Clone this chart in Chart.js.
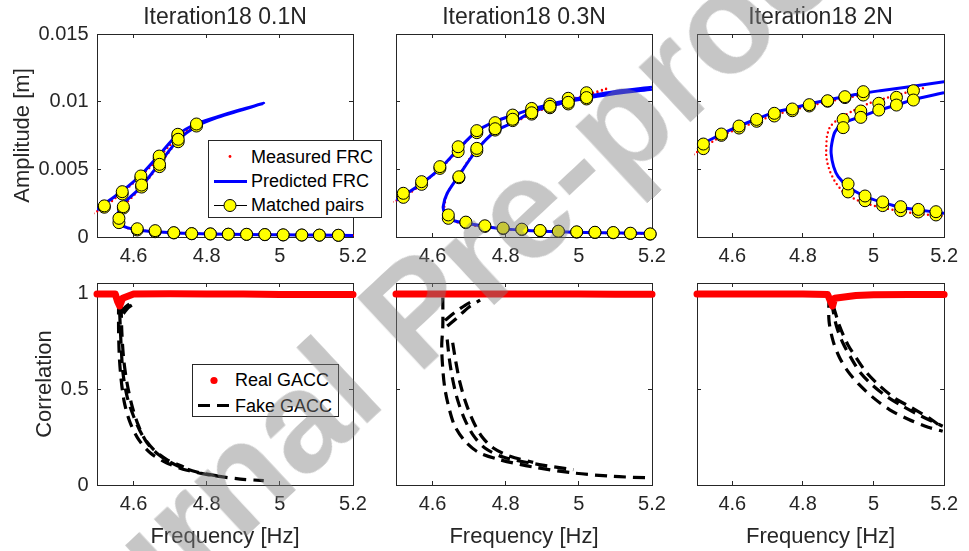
<!DOCTYPE html>
<html>
<head>
<meta charset="utf-8">
<script src="https://cdn.jsdelivr.net/npm/chart.js@4.4.1/dist/chart.umd.min.js"></script>
<style>
  html, body { margin: 0; padding: 0; background: #fff; }
  #fig { position: relative; width: 969px; height: 551px; overflow: hidden; background: #fff;
         font-family: 'Liberation Sans', Arial, Helvetica, sans-serif; }
  #fig canvas { position: absolute; left: 0; top: 0; }
  .legend { position: absolute; background: #fff; border: 1px solid #262626; box-sizing: border-box; }
  .legend svg { position: absolute; left: 0; }
  .legend .txt { position: absolute; font-size: 18px; color: #000; white-space: nowrap; line-height: 20px; }
  #mark { position: absolute; left: 416px; top: 311px; transform: translate(-50%, -50%) rotate(-43deg);
          font: bold 142px/1 'Liberation Sans', Arial, sans-serif; color: rgba(128,128,128,0.45);
          white-space: nowrap; pointer-events: none; }
</style>
</head>
<body>
<div id="fig">
  <canvas id="a1" width="969" height="551"></canvas>
  <canvas id="a2" width="969" height="551"></canvas>
  <canvas id="a3" width="969" height="551"></canvas>
  <canvas id="b1" width="969" height="551"></canvas>
  <canvas id="b2" width="969" height="551"></canvas>
  <canvas id="b3" width="969" height="551"></canvas>
  <div id="mark">Journal Pre-proof</div>
</div>
<script>
// ---- axes ----
const freqTicks = [4.6, 4.8, 5.0, 5.2];
const ampTicks = [0, 0.005, 0.01, 0.015];
const corrTicks = [0, 0.5, 1];
const titles = ['Iteration18 0.1N', 'Iteration18 0.3N', 'Iteration18 2N'];

// ---- 0.1 N : frequency response curves ----
const meas01F = [4.49, 4.52, 4.56, 4.60, 4.65, 4.70, 4.74, 4.78, 4.76, 4.72, 4.67, 4.62, 4.58, 4.562, 4.556, 4.565, 4.59, 4.63, 4.68, 4.75, 4.85, 4.95, 5.05, 5.15, 5.20];
const meas01A = [0.00175, 0.0022, 0.0031, 0.0040, 0.0053, 0.0068, 0.0078, 0.0085, 0.0081, 0.0071, 0.0053, 0.0036, 0.0025, 0.0018, 0.0013, 0.0009, 0.0006, 0.00046, 0.00036, 0.00027, 0.0002, 0.00017, 0.00015, 0.00013, 0.00012];
const pred01F = [4.50, 4.52, 4.57, 4.62, 4.67, 4.72, 4.77, 4.83, 4.89, 4.956, 4.89, 4.83, 4.775, 4.722, 4.671, 4.621, 4.573, 4.557, 4.556, 4.562, 4.575, 4.61, 4.66, 4.71, 4.81, 4.91, 5.01, 5.10, 5.20];
const pred01A = [0.0020, 0.00244, 0.00342, 0.00458, 0.00606, 0.00754, 0.00835, 0.00889, 0.00938, 0.00988, 0.00934, 0.00884, 0.00822, 0.00717, 0.00544, 0.00372, 0.00249, 0.00175, 0.0014, 0.00105, 0.00076, 0.00052, 0.00038, 0.0003, 0.00022, 0.00019, 0.00016, 0.00014, 0.00012];
const pair01F = [4.52, 4.569, 4.62, 4.67, 4.721, 4.772, 4.572, 4.622, 4.671, 4.722, 4.56, 4.61, 4.659, 4.71, 4.759, 4.81, 4.859, 4.909, 4.959, 5.009, 5.06, 5.108, 5.16];
const pair01M = [0.0022, 0.00318, 0.00434, 0.00581, 0.00741, 0.0082, 0.00214, 0.00369, 0.0052, 0.00704, 0.00106, 0.00052, 0.00039, 0.0003, 0.00024, 0.00022, 0.0002, 0.00019, 0.00017, 0.00015, 0.00014, 0.00013, 0.00012];
const pair01P = [0.0023, 0.00335, 0.00451, 0.00598, 0.00759, 0.00835, 0.00224, 0.00384, 0.00537, 0.00722, 0.00138, 0.00061, 0.00047, 0.00032, 0.00025, 0.00023, 0.00021, 0.0002, 0.00018, 0.00016, 0.00015, 0.00014, 0.00013];

// ---- 0.3 N ----
const meas03F = [4.49, 4.52, 4.57, 4.62, 4.67, 4.72, 4.77, 4.82, 4.87, 4.92, 4.97, 5.02, 5.08, 5.03, 4.97, 4.92, 4.87, 4.82, 4.78, 4.72, 4.67, 4.64, 4.632, 4.638, 4.66, 4.70, 4.75, 4.80, 4.85, 4.90, 4.95, 5.00, 5.05, 5.10, 5.15, 5.20];
const meas03A = [0.0026, 0.0029, 0.0039, 0.0050, 0.0064, 0.0078, 0.0085, 0.0090, 0.0094, 0.0098, 0.0101, 0.0105, 0.0110, 0.0105, 0.0100, 0.0096, 0.0091, 0.0084, 0.0080, 0.0065, 0.0045, 0.0032, 0.0022, 0.0016, 0.00115, 0.0009, 0.00072, 0.00058, 0.00048, 0.00041, 0.00037, 0.00034, 0.00031, 0.00028, 0.00025, 0.00022];
const pred03upF = [4.50, 4.52, 4.57, 4.62, 4.67, 4.72, 4.77, 4.82, 4.87, 4.92, 4.97, 5.02, 5.10, 5.20];
const pred03upA = [0.00273, 0.00305, 0.00395, 0.00505, 0.00648, 0.0078, 0.00852, 0.009, 0.00945, 0.0098, 0.0101, 0.01037, 0.01075, 0.01106];
const pred03loF = [5.20, 5.10, 5.02, 4.97, 4.92, 4.87, 4.82, 4.77, 4.72, 4.67, 4.64, 4.629, 4.634, 4.652, 4.693, 4.748, 4.793, 4.848, 4.894, 4.944, 4.994, 5.044, 5.094, 5.14, 5.20];
const pred03loA = [0.01092, 0.0106, 0.01025, 0.01, 0.00965, 0.0092, 0.00845, 0.00778, 0.0064, 0.00446, 0.00323, 0.00224, 0.00175, 0.00126, 0.00101, 0.00076, 0.0006, 0.0005, 0.00044, 0.00039, 0.00035, 0.00032, 0.0003, 0.00028, 0.00026];
const pair03F = [4.52, 4.57, 4.62, 4.67, 4.721, 4.771, 4.819, 4.871, 4.921, 4.971, 5.021, 5.021, 4.971, 4.921, 4.871, 4.819, 4.771, 4.721, 4.672, 4.643, 4.691, 4.743, 4.793, 4.844, 4.894, 4.944, 4.994, 5.044, 5.094, 5.141, 5.195];
const pair03M = [0.00293, 0.00389, 0.00507, 0.00631, 0.00771, 0.00825, 0.00877, 0.00931, 0.00968, 0.01007, 0.01037, 0.0102, 0.00983, 0.00955, 0.00908, 0.0086, 0.0079, 0.00638, 0.00438, 0.00138, 0.00106, 0.00078, 0.00062, 0.00055, 0.00046, 0.00041, 0.00036, 0.00033, 0.00031, 0.00026, 0.00021];
const pair03P = [0.00323, 0.00409, 0.0052, 0.00667, 0.00786, 0.00845, 0.00901, 0.0095, 0.00983, 0.01025, 0.01066, 0.0103, 0.00995, 0.00965, 0.00918, 0.0087, 0.008, 0.00655, 0.00445, 0.00163, 0.0011, 0.00083, 0.00066, 0.00058, 0.00048, 0.00043, 0.00038, 0.00035, 0.00033, 0.00028, 0.00023];

// ---- 2 N ----
const meas2upF = [4.49, 4.569, 4.619, 4.669, 4.719, 4.77, 4.818, 4.87, 4.919, 4.97];
const meas2upA = [0.0061, 0.00746, 0.00803, 0.00852, 0.00901, 0.00938, 0.00968, 0.01, 0.01025, 0.0105];
const meas2loF = [5.14, 5.09, 5.04, 4.99, 4.94, 4.90, 4.877, 4.868, 4.866, 4.87, 4.877, 4.891, 4.918, 4.964, 5.019, 5.074, 5.129, 5.20];
const meas2loA = [0.011, 0.01065, 0.0103, 0.0099, 0.0093, 0.0087, 0.00815, 0.00741, 0.00606, 0.0054, 0.00483, 0.00409, 0.00323, 0.00261, 0.00219, 0.00192, 0.0017, 0.00155];
const pred2upF = [4.50, 4.569, 4.619, 4.669, 4.719, 4.77, 4.818, 4.87, 4.919, 4.969, 5.019, 5.092, 5.20];
const pred2upA = [0.00667, 0.00761, 0.0082, 0.00872, 0.00921, 0.00951, 0.00983, 0.01012, 0.01037, 0.01062, 0.01081, 0.01106, 0.01148];
const pred2loF = [5.20, 5.115, 5.065, 5.015, 4.964, 4.914, 4.891, 4.882, 4.880, 4.887, 4.900, 4.928, 4.973, 5.028, 5.078, 5.129, 5.20];
const pred2loA = [0.01066, 0.01017, 0.00975, 0.00938, 0.00889, 0.0084, 0.00778, 0.00692, 0.00618, 0.0052, 0.00446, 0.00372, 0.00303, 0.00254, 0.00219, 0.002, 0.00175];
const pair2F = [4.518, 4.569, 4.619, 4.669, 4.719, 4.77, 4.818, 4.87, 4.919, 4.971, 5.113, 5.065, 5.015, 4.964, 4.914, 4.928, 4.976, 5.026, 5.077, 5.127, 5.177];
const pair2M = [0.00653, 0.00751, 0.00805, 0.00855, 0.00894, 0.00933, 0.00968, 0.01003, 0.0103, 0.01049, 0.01081, 0.01032, 0.00988, 0.00931, 0.00869, 0.00333, 0.00268, 0.00232, 0.00195, 0.00185, 0.00163];
const pair2P = [0.00687, 0.00761, 0.0082, 0.00869, 0.00914, 0.00946, 0.00978, 0.01007, 0.01037, 0.01074, 0.01012, 0.00975, 0.00938, 0.00884, 0.00808, 0.00392, 0.00303, 0.00259, 0.00224, 0.00204, 0.00187];

// ---- correlation (GACC) ----
const real01F = [4.50, 4.55, 4.556, 4.562, 4.57, 4.60, 4.70, 4.80, 4.90, 5.00, 5.10, 5.20];
const real01C = [0.997, 0.997, 0.96, 0.935, 0.975, 0.997, 0.999, 0.998, 0.997, 0.995, 0.995, 0.995];
const fake01aF = [4.559, 4.559, 4.561, 4.566, 4.575, 4.591, 4.614, 4.646, 4.691, 4.746, 4.819, 4.892, 4.956];
const fake01aC = [0.953, 0.813, 0.673, 0.551, 0.429, 0.324, 0.237, 0.167, 0.115, 0.077, 0.049, 0.031, 0.023];
const fake01bF = [4.566, 4.568, 4.573, 4.582, 4.596, 4.614, 4.637, 4.668, 4.714, 4.773, 4.837];
const fake01bC = [0.935, 0.796, 0.656, 0.534, 0.412, 0.307, 0.22, 0.159, 0.106, 0.068, 0.045];
const fake01cF = [4.562, 4.566, 4.571, 4.582, 4.60, 4.623, 4.655, 4.691, 4.737];
const fake01cC = [0.90, 0.726, 0.586, 0.464, 0.359, 0.263, 0.185, 0.133, 0.094];
const hook01aF = [4.566, 4.578, 4.595];
const hook01aC = [0.90, 0.93, 0.955];
const hook01bF = [4.572, 4.585, 4.60];
const hook01bC = [0.895, 0.925, 0.945];

const real03F = [4.50, 4.60, 4.70, 4.80, 4.90, 5.00, 5.10, 5.20];
const real03C = [0.998, 0.998, 0.998, 0.998, 0.998, 0.998, 0.996, 0.996];
const fake03aF = [4.628, 4.628, 4.625, 4.628, 4.634, 4.646, 4.661, 4.689, 4.725, 4.784, 4.875, 4.985, 5.094, 5.196];
const fake03aC = [0.979, 0.83, 0.726, 0.604, 0.499, 0.394, 0.307, 0.228, 0.171, 0.132, 0.094, 0.063, 0.045, 0.037];
const fake03bF = [4.64, 4.646, 4.655, 4.668, 4.686, 4.71, 4.743, 4.793, 4.875, 4.985];
const fake03bC = [0.76, 0.656, 0.551, 0.447, 0.351, 0.263, 0.193, 0.146, 0.112, 0.08];
const fake03cF = [4.655, 4.664, 4.675, 4.691, 4.711, 4.734, 4.766, 4.812, 4.875];
const fake03cC = [0.743, 0.639, 0.534, 0.429, 0.333, 0.255, 0.193, 0.15, 0.118];
const hook03aF = [4.634, 4.66, 4.69, 4.72];
const hook03aC = [0.86, 0.90, 0.94, 0.97];
const hook03bF = [4.64, 4.665, 4.70, 4.73];
const hook03bC = [0.83, 0.87, 0.93, 0.965];

const real2F = [4.50, 4.60, 4.70, 4.80, 4.87, 4.878, 4.884, 4.89, 4.95, 5.00, 5.10, 5.20];
const real2C = [0.998, 0.998, 0.998, 0.998, 0.995, 0.96, 0.935, 0.975, 0.99, 0.993, 0.995, 0.995];
const fake2aF = [4.874, 4.874, 4.886, 4.904, 4.927, 4.959, 5.0, 5.045, 5.10, 5.155, 5.196];
const fake2aC = [0.988, 0.857, 0.749, 0.665, 0.595, 0.525, 0.455, 0.394, 0.342, 0.302, 0.281];
const fake2bF = [4.881, 4.895, 4.913, 4.936, 4.963, 4.995, 5.036, 5.082, 5.136, 5.196];
const fake2bC = [0.953, 0.83, 0.743, 0.665, 0.586, 0.525, 0.464, 0.412, 0.359, 0.307];
const fake2cF = [4.886, 4.904, 4.927, 4.954, 4.981, 5.018, 5.059, 5.109, 5.164, 5.196];
const fake2cC = [0.935, 0.83, 0.734, 0.656, 0.586, 0.517, 0.455, 0.403, 0.342, 0.298];

// ---- helpers ----
const INK = '#262626';
const FONT = "'Liberation Sans', Arial, Helvetica, sans-serif";
Chart.defaults.font.family = FONT;
Chart.defaults.color = INK;

const GAP = { x: NaN, y: NaN };
const pts = (f, v) => f.map((x, i) => ({ x, y: v[i] }));
const joined = (...segs) => segs.flatMap((s, i) => (i ? [GAP, ...s] : s));
const pairPts = (f, m, p) => f.flatMap((x, i) => [{ x, y: m[i] }, { x, y: p[i] }, GAP]);
const fmt = v => String(+Number(v).toFixed(4));

const colL = [97, 396, 697], colR = [353, 652, 953];
const rowT = [34, 283], rowB = [237, 485];

function frame(min, max, vals, position, axis) {
  return {
    type: 'linear', axis, position, min, max,
    afterBuildTicks: s => { s.ticks = vals.map(v => ({ value: v })); },
    grid: { drawOnChartArea: false, drawTicks: true, tickLength: -4, tickColor: INK, tickWidth: 1 },
    border: { display: true, color: INK, width: 1 }
  };
}

function panel(id, row, col, datasets) {
  const L = colL[col], R = colR[col], T = rowT[row], B = rowB[row];
  const yW = col === 0 ? 97 : 10;
  const xH = row === 0 ? 40 : 66;
  const titleH = row === 0 ? 34 : 0;
  const yMax = row === 0 ? 0.015 : 1.055;
  const yVals = row === 0 ? ampTicks : corrTicks;
  const yTitle = row === 0 ? 'Amplitude [m]' : 'Correlation';
  return new Chart(document.getElementById(id), {
    type: 'scatter',
    data: { datasets },
    options: {
      responsive: false, animation: false, devicePixelRatio: 1, events: [],
      layout: { padding: { left: L - yW, top: T - titleH, right: 969 - R, bottom: 551 - B - xH } },
      plugins: {
        legend: { display: false }, tooltip: { enabled: false },
        title: { display: row === 0, text: titles[col], fullSize: false, color: INK,
                 font: { size: 23, weight: 'normal', lineHeight: 1.2 }, padding: { top: 3.5, bottom: 2.9 } }
      },
      scales: {
        x: Object.assign(frame(4.5, 5.2, freqTicks, 'bottom', 'x'), {
          afterFit: s => { s.height = xH; },
          ticks: { display: true, color: INK, font: { size: 20 }, padding: 11, maxRotation: 0, autoSkip: false, callback: fmt },
          title: { display: row === 1, text: 'Frequency [Hz]', color: INK, font: { size: 22 }, padding: { top: 0, bottom: 1 } }
        }),
        y: Object.assign(frame(0, yMax, yVals, 'left', 'y'), {
          afterFit: s => { s.width = yW; },
          ticks: { display: col === 0, color: INK, font: { size: 20 }, padding: 12.5, autoSkip: false, callback: fmt },
          title: { display: col === 0, text: yTitle, color: INK, font: { size: 22 },
                   padding: { top: row === 0 ? 9.3 : 31.5, bottom: 0 } }
        }),
        x2: Object.assign(frame(4.5, 5.2, freqTicks, 'top', 'x'), {
          afterFit: s => { s.height = 0; }, ticks: { display: false }
        }),
        y2: Object.assign(frame(0, yMax, yVals, 'right', 'y'), {
          afterFit: s => { s.width = 0; }, ticks: { display: false }
        })
      }
    }
  });
}

// top-row datasets: measured (red dots), predicted (blue), matched pairs
function frcSets(meas, pred, pairs) {
  return [
    { label: 'Matched pairs', data: pairs, order: 0, showLine: true, borderColor: '#000000', borderWidth: 1,
      pointRadius: 6, pointBackgroundColor: '#ffff00', pointBorderColor: '#000000', pointBorderWidth: 1,
      spanGaps: false, clip: false },
    { label: 'Predicted FRC', data: pred, order: 1, showLine: true, borderColor: '#0000ff', borderWidth: 3,
      pointRadius: 0, tension: 0.3, spanGaps: false },
    { label: 'Measured FRC', data: meas, order: 2, showLine: true, borderColor: '#ff0000', borderWidth: 2.4,
      borderDash: [0, 4.5], borderCapStyle: 'round', pointRadius: 0, tension: 0.2, spanGaps: false, clip: 3 }
  ];
}
// bottom-row datasets: real GACC (red band) and fake GACC (black dashed)
function gaccSets(real, fake) {
  return [
    { label: 'Real GACC', data: real, order: 0, showLine: true, borderColor: '#ff0000', borderWidth: 7,
      borderCapStyle: 'round', borderJoinStyle: 'round', pointRadius: 0, tension: 0, clip: 5 },
    { label: 'Fake GACC', data: fake, order: 1, showLine: true, borderColor: '#000000', borderWidth: 3.2,
      borderDash: [12, 7], pointRadius: 0, tension: 0.3, spanGaps: false }
  ];
}

const a1 = panel('a1', 0, 0, frcSets(pts(meas01F, meas01A), pts(pred01F, pred01A), pairPts(pair01F, pair01M, pair01P)));
panel('a2', 0, 1, frcSets(pts(meas03F, meas03A),
  joined(pts(pred03upF, pred03upA), pts(pred03loF, pred03loA)), pairPts(pair03F, pair03M, pair03P)));
panel('a3', 0, 2, frcSets(joined(pts(meas2upF, meas2upA), pts(meas2loF, meas2loA)),
  joined(pts(pred2upF, pred2upA), pts(pred2loF, pred2loA)), pairPts(pair2F, pair2M, pair2P)));

const b1 = panel('b1', 1, 0, gaccSets(pts(real01F, real01C),
  joined(pts(fake01aF, fake01aC), pts(fake01bF, fake01bC), pts(fake01cF, fake01cC), pts(hook01aF, hook01aC), pts(hook01bF, hook01bC))));
panel('b2', 1, 1, gaccSets(pts(real03F, real03C),
  joined(pts(fake03aF, fake03aC), pts(fake03bF, fake03bC), pts(fake03cF, fake03cC), pts(hook03aF, hook03aC), pts(hook03bF, hook03bC))));
panel('b3', 1, 2, gaccSets(pts(real2F, real2C),
  joined(pts(fake2aF, fake2aC), pts(fake2bF, fake2bC), pts(fake2cF, fake2cC))));

// boxed legends built from the dataset styles
function legend(chart, box, entries) {
  const fig = document.getElementById('fig');
  const div = document.createElement('div');
  div.className = 'legend';
  Object.assign(div.style, { left: box.x + 'px', top: box.y + 'px', width: box.w + 'px', height: box.h + 'px' });
  entries.forEach((e, i) => {
    const ds = chart.data.datasets.find(d => d.label === e.label);
    const cy = box.rows[i];
    const NS = 'http://www.w3.org/2000/svg';
    const svg = document.createElementNS(NS, 'svg');
    svg.setAttribute('width', 42); svg.setAttribute('height', 21);
    svg.style.top = (cy - 10.5) + 'px';
    const add = (tag, attrs) => { const el = document.createElementNS(NS, tag); for (const k in attrs) el.setAttribute(k, attrs[k]); svg.appendChild(el); };
    if (e.kind === 'dot') {
      add('circle', { cx: 21, cy: 10.5, r: e.r, fill: ds.borderColor });
    } else {
      add('line', { x1: 5, y1: 10.5, x2: 38, y2: 10.5, stroke: ds.borderColor, 'stroke-width': ds.borderWidth,
                    'stroke-dasharray': e.kind === 'dash' ? ds.borderDash.join(' ') : 'none' });
      if (e.kind === 'marker') add('circle', { cx: 21, cy: 10.5, r: ds.pointRadius, fill: ds.pointBackgroundColor, stroke: ds.pointBorderColor, 'stroke-width': 1 });
    }
    div.appendChild(svg);
    const t = document.createElement('div');
    t.className = 'txt'; t.textContent = e.label;
    t.style.left = '42px'; t.style.top = (cy - 10) + 'px';
    div.appendChild(t);
  });
  fig.insertBefore(div, document.getElementById('mark'));
}

legend(a1, { x: 208, y: 140, w: 174, h: 78, rows: [15.5, 40, 64] }, [
  { label: 'Measured FRC', kind: 'dot', r: 1.4 },
  { label: 'Predicted FRC', kind: 'line' },
  { label: 'Matched pairs', kind: 'marker' }
]);
legend(b1, { x: 192, y: 364, w: 147, h: 53, rows: [15.3, 40.5] }, [
  { label: 'Real GACC', kind: 'dot', r: 3.6 },
  { label: 'Fake GACC', kind: 'dash' }
]);
</script>
</body>
</html>
